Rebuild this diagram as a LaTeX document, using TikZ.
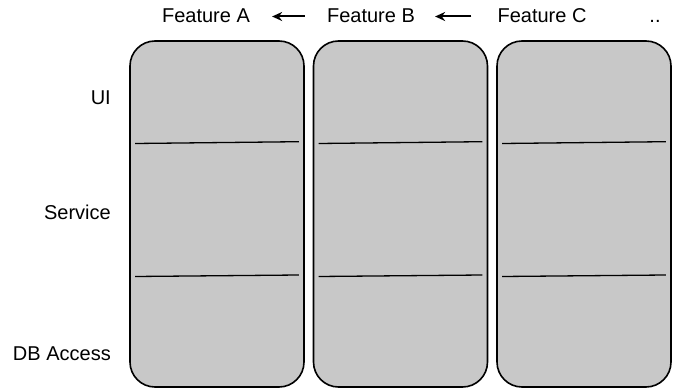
\documentclass[tikz,border=0pt]{standalone}
\usepackage{fontspec}
\setmainfont{Liberation Sans}
\usetikzlibrary{arrows.meta,calc}
\tikzset{
	feature/.style={rounded corners=25, draw=black, line width=1.6, fill={rgb,255:red,200;green,200;blue,200}, minimum width=174, minimum height=346, inner sep=0},
	layer/.style={anchor=base east, inner sep=0},
	title/.style={anchor=base, inner sep=0},
	divider/.style={line width=1.3},
	depends/.style={-{Stealth[length=10,width=9]}, line width=2}
}
\begin{document}
\begin{tikzpicture}[x=1pt, y=-1pt, font=\fontsize{20}{23}\selectfont]
		\useasboundingbox ( 0, 0 ) rectangle ( 699, 390 );
		\node [feature] (boxA) at ( 217, 214 ) {};
		\node [feature] (boxB) at ( 400.5, 214 ) {};
		\node [feature] (boxC) at ( 584, 214 ) {};
		\foreach \b in {boxA, boxB, boxC} {
			\draw [divider] ( $(\b.west) + (6, -70.5)$ ) -- ( $(\b.east) + (-6, -72.3)$ );
			\draw [divider] ( $(\b.west) + (6, 62.5)$ ) -- ( $(\b.east) + (-6, 61)$ );
		}
		\node [title] (featA) at ( 206, 23 ) {Feature A};
		\node [title] (featB) at ( 371, 23 ) {Feature B};
		\node [title] (featC) at ( 542, 23 ) {Feature C};
		\node [title] (more) at ( 655, 23 ) {..};
		\draw [depends, shorten <=22, shorten >=22] ($(featB.base west)+(0,-6.5)$) -- ($(featA.base east)+(0,-6.5)$);
		\draw [depends, shorten <=26, shorten >=20] ($(featC.base west)+(0,-6.5)$) -- ($(featB.base east)+(0,-6.5)$);
		\node [layer] (ui) at ( 111, 105 ) {UI};
		\node [layer] (service) at ( 111, 220 ) {Service};
		\node [layer] (db) at ( 111, 360 ) {DB Access};
	\end{tikzpicture}
\end{document}
